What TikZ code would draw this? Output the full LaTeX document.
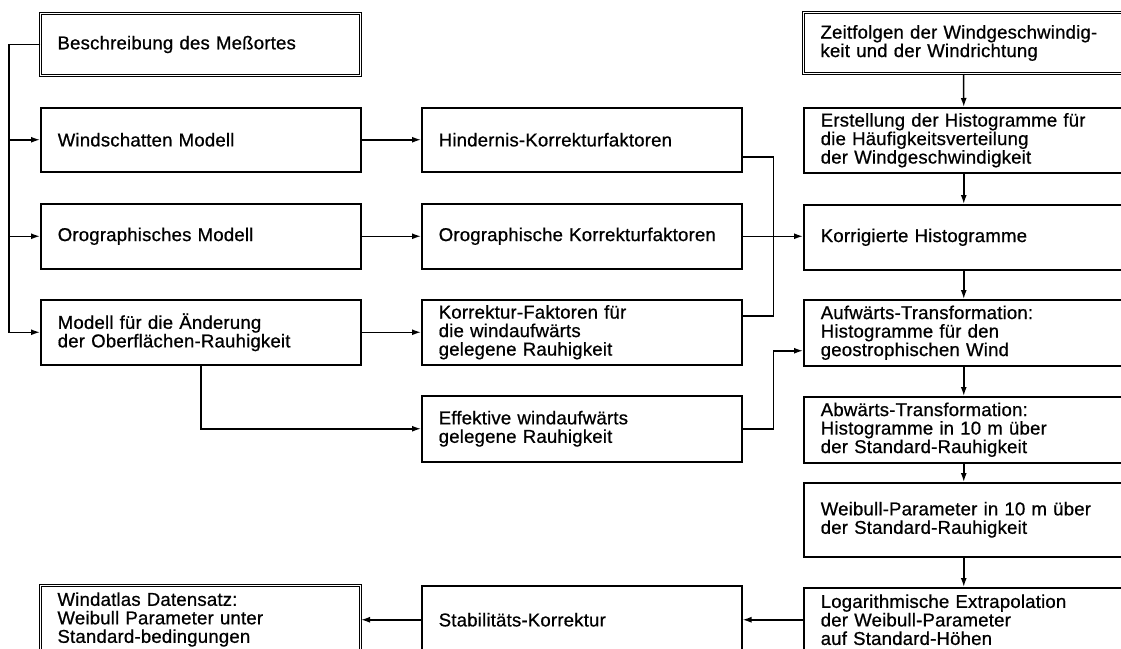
\documentclass[tikz,border=0pt]{standalone}
\usepackage{fontspec}
\setmainfont[FakeBold=0.7,LetterSpace=1]{Liberation Sans}
\usetikzlibrary{arrows.meta}
\begin{document}
\begin{tikzpicture}[x=1pt,y=-1pt,
  box/.style={draw, line width=1.5pt, anchor=north west, inner xsep=17pt, inner ysep=0pt,
    text width=286pt, align=left, minimum width=320pt, font=\fontsize{18.6}{18.5}\selectfont},
  dbox/.style={box, double, double distance=1.6pt, line width=1pt},
  conn/.style={line width=1.5pt},
  arr/.style={conn, -{Latex[length=9pt,width=6pt]}},
]
\useasboundingbox (0,0) rectangle (1121,648);
\clip (0,0) rectangle (1121,648);
% left column
\node[dbox, minimum height=62pt] (besch) at (40,13) {Beschreibung des Meßortes};
\node[box, minimum height=64pt] (wind) at (40,107) {Windschatten Modell};
\node[box, minimum height=65pt] (orom) at (40,203) {Orographisches Modell};
\node[box, minimum height=65pt] (mod) at (40,299) {Modell für die Änderung\\der Oberflächen-Rauhigkeit};
\node[dbox, minimum height=68pt] (atlas) at (40,585) {Windatlas Datensatz:\\Weibull Parameter unter\\Standard-bedingungen};
% middle column
\node[box, minimum height=64pt] (hind) at (421,107) {Hindernis-Korrekturfaktoren};
\node[box, minimum height=65pt] (orok) at (421,203) {Orographische Korrekturfaktoren};
\node[box, minimum height=65pt] (korf) at (421,299) {Korrektur-Faktoren für\\die windaufwärts\\gelegene Rauhigkeit};
\node[box, minimum height=66pt] (eff) at (421,395) {Effektive windaufwärts\\gelegene Rauhigkeit};
\node[box, minimum height=68pt] (stab) at (421,585) {Stabilitäts-Korrektur};
% right column
\node[dbox, minimum height=61pt] (zeit) at (803,12) {Zeitfolgen der Windgeschwindig-\\keit und der Windrichtung};
\node[box, minimum height=65pt] (erst) at (803,107) {Erstellung der Histogramme für\\die Häufigkeitsverteilung\\der Windgeschwindigkeit};
\node[box, minimum height=65pt] (korr) at (803,204) {Korrigierte Histogramme};
\node[box, minimum height=66pt] (auf) at (803,299) {Aufwärts-Transformation:\\Histogramme für den\\geostrophischen Wind};
\node[box, minimum height=66pt] (ab) at (803,396) {Abwärts-Transformation:\\Histogramme in 10 m über\\der Standard-Rauhigkeit};
\node[box, minimum height=74pt] (weib) at (803,482) {Weibull-Parameter in 10 m über\\der Standard-Rauhigkeit};
\node[box, minimum height=64pt] (log) at (803,587) {Logarithmische Extrapolation\\der Weibull-Parameter\\auf Standard-Höhen};
% left bus
\draw[arr] (besch.west) -- ++(-31,0) |- (wind.west);
\draw[arr] (besch.west) -- ++(-31,0) |- (orom.west);
\draw[arr] (besch.west) -- ++(-31,0) |- (mod.west);
% left to middle
\draw[arr] (wind.east) -- (hind.west);
\draw[arr] (orom.east) -- (orok.west);
\draw[arr] (mod.east) -- (korf.west);
\draw[arr] (mod.south) |- (eff.west);
% middle to right
\draw[conn] ([yshift=-17pt]hind.east) -- ++(31,0) |- ([yshift=16.5pt]korf.east);
\draw[arr] (orok.east) -- (orok.east -| korr.west);
\draw[arr] (eff.east) -- ++(31,0) |- ([yshift=-18pt]auf.west);
% right column chain
\draw[arr] (zeit.south) -- (erst.north);
\draw[arr] (erst.south) -- (korr.north);
\draw[arr] (korr.south) -- (auf.north);
\draw[arr] (auf.south) -- (ab.north);
\draw[arr] (ab.south) -- (weib.north);
\draw[arr] (weib.south) -- (log.north);
% bottom row
\draw[arr] (log.west) -- (log.west -| stab.east);
\draw[arr] (stab.west) -- (stab.west -| atlas.east);
\end{tikzpicture}
\end{document}
